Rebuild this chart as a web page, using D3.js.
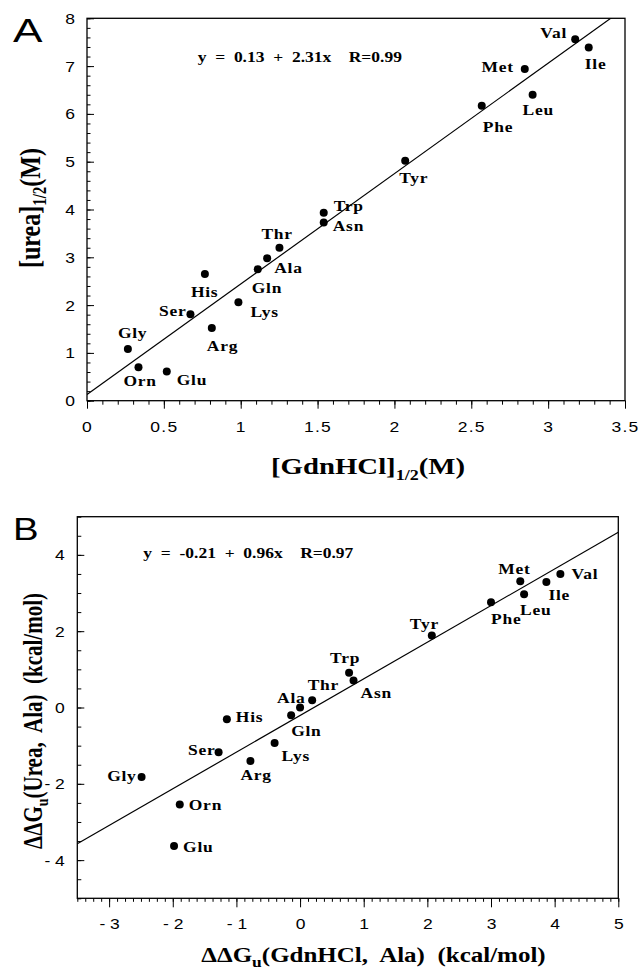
<!DOCTYPE html>
<html><head><meta charset="utf-8">
<script src="https://cdn.jsdelivr.net/npm/d3@7"></script>
<style>
html,body{margin:0;padding:0;background:#fff;}
svg{display:block;}
</style></head><body>
<svg id="chart" width="642" height="971"></svg>
<script>
// ---------- DATA ----------
const residues = ["Gly","Ala","Val","Leu","Ile","Met","Phe","Tyr","Trp","Ser","Thr","Asn","Gln","His","Lys","Arg","Orn","Glu"];
// Panel A: midpoints of denaturation (M)
const gdnHalf  = [0.266,1.172,3.176,2.899,3.264,2.848,2.568,2.070,1.540,0.673,1.252,1.540,1.111,0.767,0.985,0.812,0.335,0.519];
const ureaHalf = [1.08, 2.98, 7.56, 6.40, 7.39, 6.94, 6.17, 5.02, 3.93, 1.81, 3.20, 3.73, 2.75, 2.65, 2.06, 1.52, 0.70, 0.61];
// Panel B: ddG relative to Ala (kcal/mol)
const ddgGdn  = [-2.49,0.00,4.09,3.52,3.87,3.46,3.00,2.07,0.77,-1.28,0.19,0.84,-0.14,-1.15,-0.40,-0.78,-1.89,-1.98];
const ddgUrea = [-1.82,0.00,3.50,2.97,3.29,3.31,2.76,1.89,0.91,-1.17,0.19,0.71,-0.20,-0.31,-0.93,-1.40,-2.54,-3.63];
// Linear fits [intercept, slope]
const fitA = [0.13, 2.31];
const fitB = [-0.21, 0.96];
const eqTextA = "y  =  0.13  +  2.31x    R=0.99";
const eqTextB = "y  =  -0.21  +  0.96x    R=0.97";
// Ticks
const xTicksA = [0,0.5,1,1.5,2,2.5,3,3.5];
const xTickLabelsA = ["0","0.5","1","1.5","2","2.5","3","3.5"];
const yTicksA = [0,1,2,3,4,5,6,7,8];
const yTickLabelsA = ["0","1","2","3","4","5","6","7","8"];
const xTicksB = [-3,-2,-1,0,1,2,3,4,5];
const xTickLabelsB = ["- 3","- 2","- 1","0","1","2","3","4","5"];
const yTicksB = [-4,-2,0,2,4];
const yTickLabelsB = ["- 4","- 2","0","2","4"];

// ---------- LAYOUT (label placement: anchor, dx, dy in px) ----------
const labelLayoutA = {
  Val:["end",-8,-1], Ile:["start",-4,22], Met:["end",-11,3], Leu:["start",-10,20],
  Phe:["start",1,26], Tyr:["start",-6,22], Trp:["start",10,-2], Asn:["start",9,9],
  Thr:["start",-18,-9], Ala:["start",7,15], Gln:["start",-6,24], His:["start",-14,23],
  Lys:["start",12,15], Ser:["end",-4,2], Arg:["start",-5,23], Gly:["start",-10,-11],
  Orn:["start",-15,19], Glu:["start",10,13]
};
const labelLayoutB = {
  Met:["start",-22,-7], Val:["start",11,5], Ile:["start",2,18], Leu:["start",-4,21],
  Phe:["start",0,22], Tyr:["start",-22,-6], Trp:["start",-19,-10], Asn:["start",7,18],
  Thr:["start",-4.5,-10], Ala:["start",-23,-5], Gln:["start",0,21], His:["start",9,2.5],
  Lys:["start",7,18], Ser:["end",-3,3], Arg:["start",-10,19], Gly:["end",-5,4],
  Orn:["start",9,6], Glu:["start",9,6]
};

const SERIF = "'Liberation Serif','Times New Roman',serif";
const SANS = "'Liberation Sans',Arial,sans-serif";
const svg = d3.select("#chart");

function drawPanel(o) {
  const x = d3.scaleLinear().domain(o.xDom).range([o.left, o.right]);
  const y = d3.scaleLinear().domain(o.yDom).range([o.bottom, o.top]);
  const g = svg.append("g");
  const clipId = "clip" + o.id;
  svg.append("clipPath").attr("id", clipId).append("rect")
    .attr("x", o.left).attr("y", o.top).attr("width", o.right - o.left).attr("height", o.bottom - o.top);

  // x axis minor + major (outward)
  const xMinor = d3.range(Math.round(o.xDom[0]/o.xMinorStep), Math.round(o.xDom[1]/o.xMinorStep)+1).map(k => k*o.xMinorStep);
  const gxm = g.append("g").attr("transform", `translate(0,${o.bottom})`)
    .call(d3.axisBottom(x).tickValues(xMinor).tickSize(o.xMinorLen).tickFormat(""));
  const gx = g.append("g").attr("transform", `translate(0,${o.bottom})`)
    .call(d3.axisBottom(x).tickValues(o.xTicks).tickSize(o.xMajorLen).tickFormat((d,i) => o.xLabels[i]));
  [gxm, gx].forEach(a => { a.select(".domain").remove(); a.selectAll("line").attr("stroke","#000").attr("stroke-width",1); });
  gx.attr("font-family", SANS).attr("font-size", 14);
  gx.selectAll("text").attr("y",0).attr("dy",0).attr("fill","#000")
    .attr("letter-spacing", o.xLetterSp)
    .attr("transform", `translate(0,${o.xLabelY}) scale(1.25,1)`);

  // y axis minor + major (inward)
  const yMinor = d3.range(Math.round(o.yDom[0]/o.yMinorStep), Math.round(o.yDom[1]/o.yMinorStep)+1).map(k => k*o.yMinorStep);
  const gym = g.append("g").attr("transform", `translate(${o.left},0)`)
    .call(d3.axisLeft(y).tickValues(yMinor).tickSize(-o.yMinorLen).tickFormat(""));
  const gy = g.append("g").attr("transform", `translate(${o.left},0)`)
    .call(d3.axisLeft(y).tickValues(o.yTicks).tickSize(-o.yMajorLen).tickFormat((d,i) => o.yLabels[i]));
  [gym, gy].forEach(a => { a.select(".domain").remove(); a.selectAll("line").attr("stroke","#000").attr("stroke-width",1); });
  gy.attr("font-family", SANS).attr("font-size", 14);
  gy.selectAll("text").attr("x",0).attr("dy","0.36em").attr("fill","#000")
    .attr("transform", `translate(${-o.yLabelGap},0) scale(1.25,1)`);

  // frame
  g.append("rect").attr("x", o.left).attr("y", o.top)
    .attr("width", o.right - o.left).attr("height", o.bottom - o.top)
    .attr("fill","none").attr("stroke","#000").attr("stroke-width",1.3);

  // fit line
  const lineData = [o.xDom[0], o.xDom[1]].map(v => [v, o.fit[0] + o.fit[1]*v]);
  g.append("path").attr("clip-path", `url(#${clipId})`)
    .attr("d", d3.line().x(d => x(d[0])).y(d => y(d[1]))(lineData))
    .attr("fill","none").attr("stroke","#000").attr("stroke-width",1.2);

  // points
  const pts = residues.map((r,i) => ({r, xv:o.xs[i], yv:o.ys[i]}));
  g.selectAll("circle.pt").data(pts).enter().append("circle")
    .attr("cx", d => x(d.xv)).attr("cy", d => y(d.yv)).attr("r", 4).attr("fill","#000");

  // labels
  g.selectAll("text.lab").data(pts).enter().append("text")
    .attr("class","lab")
    .attr("transform", d => { const L = o.layout[d.r]; return `translate(${x(d.xv)+L[1]},${y(d.yv)+L[2]}) scale(1.25,1)`; })
    .attr("text-anchor", d => o.layout[d.r][0])
    .attr("font-family", SERIF).attr("font-weight","bold").attr("font-size",14)
    .attr("letter-spacing", 0.6)
    .text(d => d.r);

  // equation
  g.append("text").attr("transform", `translate(${o.eqX},${o.eqY}) scale(1.25,1)`)
    .attr("xml:space","preserve").style("white-space","pre")
    .attr("font-family", SERIF).attr("font-weight","bold").attr("font-size",14)
    .text(o.eq);

  // panel letter
  g.append("text").attr("transform", `translate(${o.letterX},${o.letterY}) scale(${o.letterSx},1)`)
    .attr("font-family", SANS).attr("font-size", o.letterSize).text(o.letter);
  return g;
}

const gA = drawPanel({
  id:"A", xDom:[0,3.5], yDom:[0,8], left:87, right:625, top:18.3, bottom:400.7,
  xTicks:xTicksA, xLabels:xTickLabelsA, yTicks:yTicksA, yLabels:yTickLabelsA,
  xMinorStep:0.1, yMinorStep:0.2, xMinorLen:4, xMajorLen:8, yMinorLen:3.5, yMajorLen:7,
  xLabelY:31, xLetterSp:1, yLabelGap:12,
  xs:gdnHalf, ys:ureaHalf, fit:fitA, layout:labelLayoutA,
  eq:eqTextA, eqX:197.7, eqY:62.3,
  letter:"A", letterX:13, letterY:41.7, letterSx:1.3, letterSize:34
});
const gB = drawPanel({
  id:"B", xDom:[-3.5,5], yDom:[-5,5], left:77.3, right:618.3, top:516.7, bottom:898.3,
  xTicks:xTicksB, xLabels:xTickLabelsB, yTicks:yTicksB, yLabels:yTickLabelsB,
  xMinorStep:0.125, yMinorStep:0.5, xMinorLen:3.5, xMajorLen:9, yMinorLen:4, yMajorLen:7,
  xLabelY:31, xLetterSp:0, yLabelGap:12.5,
  xs:ddgGdn, ys:ddgUrea, fit:fitB, layout:labelLayoutB,
  eq:eqTextB, eqX:143.3, eqY:558.3,
  letter:"B", letterX:13, letterY:540, letterSx:1.2, letterSize:32
});

// ---------- AXIS TITLES ----------
// Panel A y title
const tyA = gA.append("text").attr("transform","translate(40,208) rotate(-90) scale(1,1.25)")
  .attr("text-anchor","middle").attr("font-family",SERIF).attr("font-weight","bold").attr("font-size",24);
tyA.append("tspan").text("[urea]");
tyA.append("tspan").attr("font-size",15).attr("dy",5).text("1/2");
tyA.append("tspan").attr("dy",-5).text("(M)");
// Panel A x title
const txA = gA.append("text").attr("transform","translate(368,474) scale(1.2,1)")
  .attr("text-anchor","middle").attr("font-family",SERIF).attr("font-weight","bold").attr("font-size",24);
txA.append("tspan").text("[GdnHCl]");
txA.append("tspan").attr("font-size",15).attr("dy",6).text("1/2");
txA.append("tspan").attr("dy",-6).text("(M)");
// Panel B y title
const tyB = gB.append("text").attr("transform","translate(42,721) rotate(-90) scale(1,1.25)")
  .attr("text-anchor","middle").attr("font-family",SERIF).attr("font-weight","bold").attr("font-size",21)
  .attr("xml:space","preserve").style("white-space","pre");
tyB.append("tspan").text("ΔΔG");
tyB.append("tspan").attr("font-size",14).attr("dy",5).text("u");
tyB.append("tspan").attr("dy",-5).text("(Urea,  Ala)  (kcal/mol)");
// Panel B x title
const txB = gB.append("text").attr("transform","translate(373.5,962) scale(1.25,1)")
  .attr("text-anchor","middle").attr("font-family",SERIF).attr("font-weight","bold").attr("font-size",20)
  .attr("xml:space","preserve").style("white-space","pre");
txB.append("tspan").text("ΔΔG");
txB.append("tspan").attr("font-size",14).attr("dy",5).text("u");
txB.append("tspan").attr("dy",-5).text("(GdnHCl,  Ala)  (kcal/mol)");
</script>
</body></html>
